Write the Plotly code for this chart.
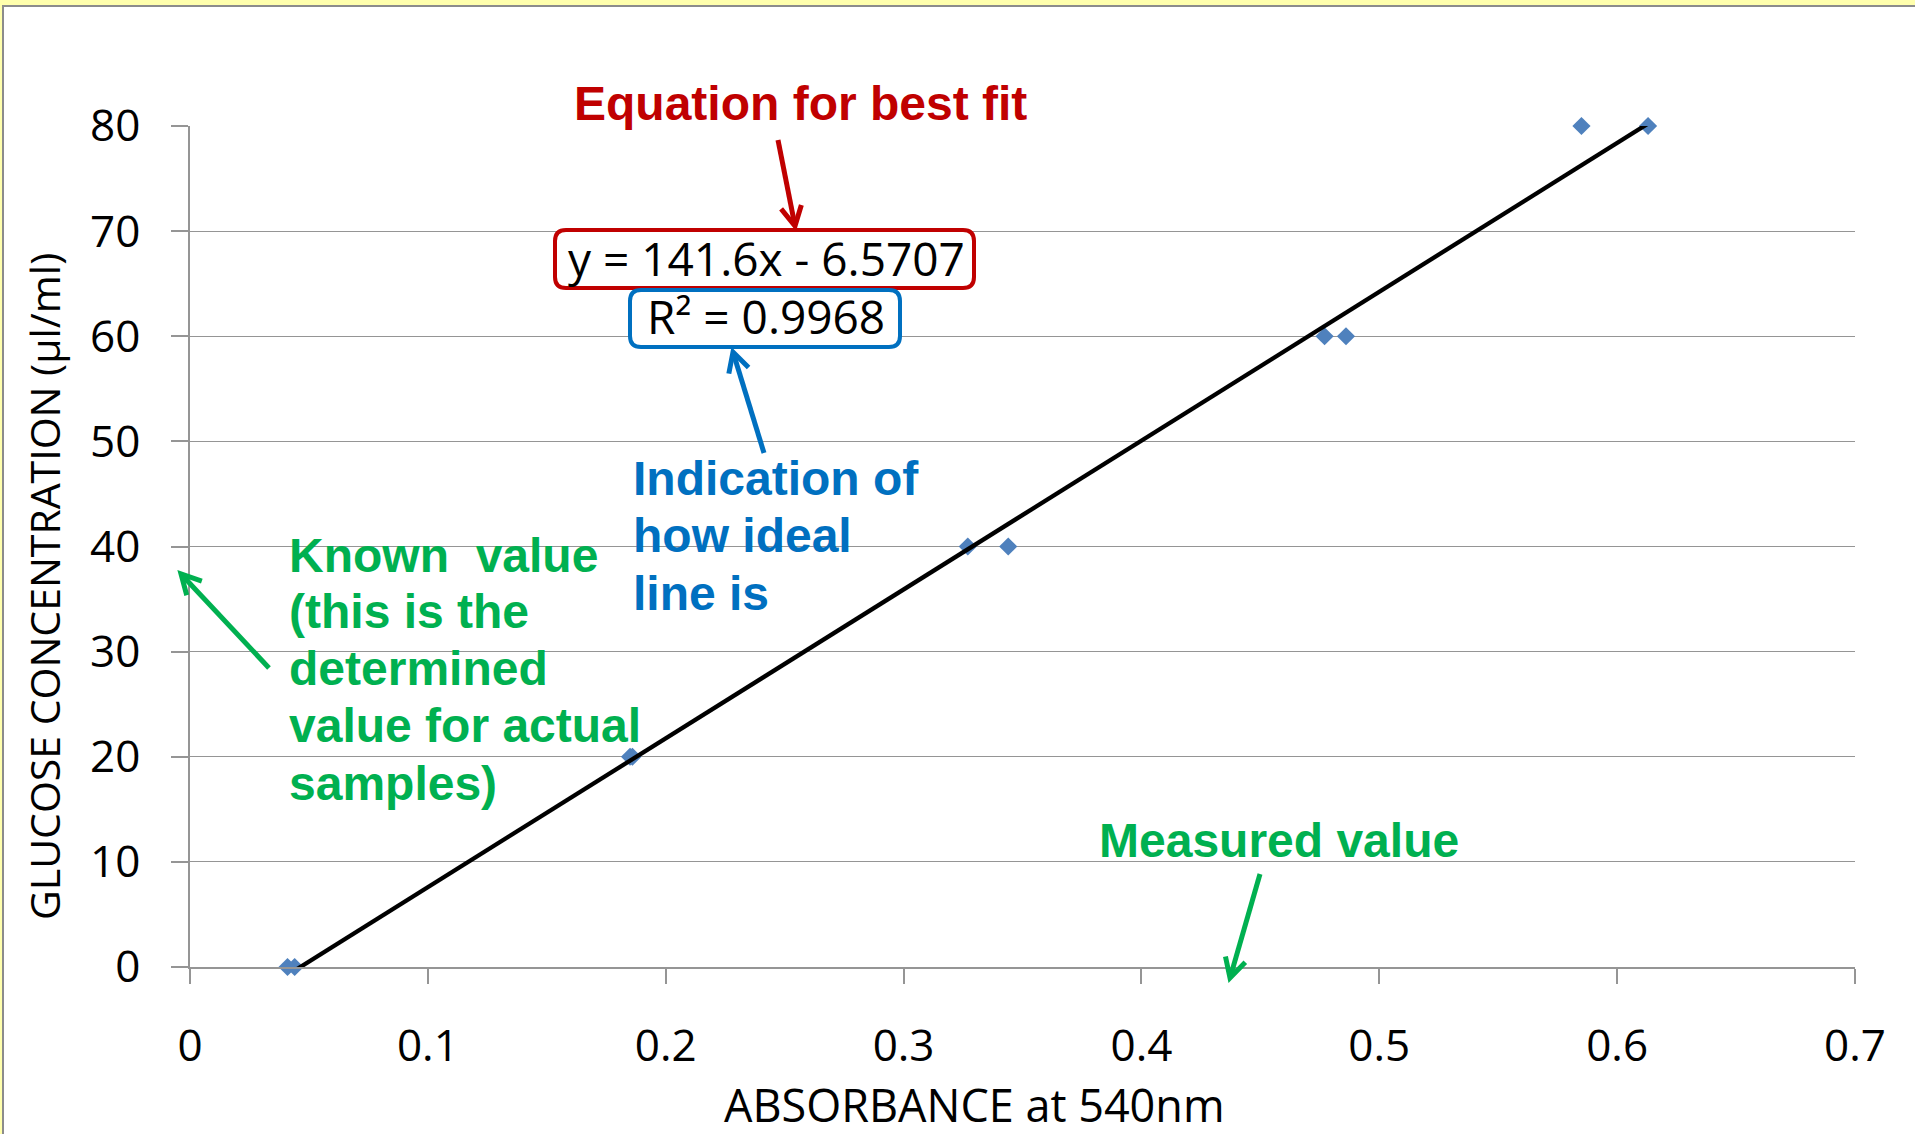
import math
import plotly.graph_objects as go

# ---------------- data ----------------
absorbance = [0.041, 0.044, 0.185, 0.186, 0.327, 0.344, 0.477, 0.486, 0.585, 0.613]
glucose = [0, 0, 20, 20, 40, 40, 60, 60, 80, 80]
fit_slope = 141.6
fit_intercept = -6.5707
fit_r2 = 0.9968
x_tick_vals = [0, 0.1, 0.2, 0.3, 0.4, 0.5, 0.6, 0.7]
x_tick_text = ["0", "0.1", "0.2", "0.3", "0.4", "0.5", "0.6", "0.7"]
y_tick_vals = [0, 10, 20, 30, 40, 50, 60, 70, 80]
x_title = "ABSORBANCE at 540nm"
y_title = "GLUCOSE CONCENTRATION (µl/ml)"
eq_text = "y = 141.6x - 6.5707"
r2_text = "R² = 0.9968"

# ---------------- geometry helpers ----------------
W, H = 1915, 1134
ML, MR, MT, MB = 190, 60, 126, 167
PW, PH = W - ML - MR, H - MT - MB


def X(px):
    return (px - ML) / PW


def Y(py):
    return (H - MB - py) / PH


RED = "#C00000"
BLUE = "#0070C0"
GREEN = "#00B050"
GRID = "#959595"
CAL = "Open Sans"
BOLD = "Liberation Sans"

fig = go.Figure()

fig.add_trace(go.Scatter(
    x=absorbance, y=glucose, mode="markers",
    marker=dict(symbol="diamond", size=14, color="#4F81BD", line=dict(width=0)),
    cliponaxis=False, showlegend=False,
))

x_fit = [min(absorbance), max(absorbance)]
y_fit = [fit_slope * v + fit_intercept for v in x_fit]
fig.add_trace(go.Scatter(
    x=x_fit, y=y_fit, mode="lines",
    line=dict(color="black", width=4.3), showlegend=False,
))

shapes = []
# outer frame
shapes.append(dict(type="rect", xref="paper", yref="paper",
                   x0=X(3), y0=Y(6), x1=X(1960), y1=Y(1180),
                   fillcolor="white", line=dict(color="#8C8C8C", width=2), layer="below"))


def rrect(x0, y0, x1, y1, r, color):
    p = (f"M {X(x0 + r)},{Y(y0)} L {X(x1 - r)},{Y(y0)} Q {X(x1)},{Y(y0)} {X(x1)},{Y(y0 + r)} "
         f"L {X(x1)},{Y(y1 - r)} Q {X(x1)},{Y(y1)} {X(x1 - r)},{Y(y1)} "
         f"L {X(x0 + r)},{Y(y1)} Q {X(x0)},{Y(y1)} {X(x0)},{Y(y1 - r)} "
         f"L {X(x0)},{Y(y0 + r)} Q {X(x0)},{Y(y0)} {X(x0 + r)},{Y(y0)} Z")
    return dict(type="path", xref="paper", yref="paper", path=p,
                fillcolor="white", line=dict(color=color, width=4), layer="above")


shapes.append(rrect(555, 230, 974, 288, 11, RED))
shapes.append(rrect(630, 290, 900, 347, 11, BLUE))


def arrow(tx, ty, hx, hy, color, L=22, ang=28, w=5):
    dx, dy = hx - tx, hy - ty
    n = math.hypot(dx, dy)
    ux, uy = dx / n, dy / n
    out = [dict(type="line", xref="paper", yref="paper",
                x0=X(tx), y0=Y(ty), x1=X(hx - ux * 2), y1=Y(hy - uy * 2),
                line=dict(color=color, width=w))]
    pts = []
    for s in (1, -1):
        a = math.radians(ang) * s
        wx = hx - L * (ux * math.cos(a) - uy * math.sin(a))
        wy = hy - L * (ux * math.sin(a) + uy * math.cos(a))
        pts.append((wx, wy))
    p = f"M {X(pts[0][0])},{Y(pts[0][1])} L {X(hx)},{Y(hy)} L {X(pts[1][0])},{Y(pts[1][1])}"
    out.append(dict(type="path", xref="paper", yref="paper", path=p,
                    line=dict(color=color, width=w)))
    return out


shapes += arrow(778, 140, 795, 226, RED)
shapes += arrow(764, 453, 733, 352, BLUE)
shapes += arrow(269, 668, 181, 574, GREEN)
shapes += arrow(1260, 874, 1230, 978, GREEN)

annotations = []


def label(text, left, baseline, color, size=48, family=BOLD, bold=True):
    annotations.append(dict(
        text=text, xref="paper", yref="paper", x=X(left - 5), y=Y(baseline - 0.3465 * size),
        xanchor="left", yanchor="middle", showarrow=False,
        font=dict(family=family, size=size, color=color, weight="bold" if bold else "normal"),
    ))


label("Equation for best fit", 577, 120, RED)
for i, t in enumerate(["Known \u00a0value", "(this is the", "determined", "value for actual", "samples)"]):
    label(t, 292, [572, 628, 685, 742, 800][i], GREEN)
for i, t in enumerate(["Indication of", "how ideal", "line is"]):
    label(t, 636, [495, 552, 610][i], BLUE)
label("Measured value", 1102, 857, GREEN)

annotations.append(dict(text=eq_text, xref="paper", yref="paper", x=X(766), y=Y(258),
                        xanchor="center", yanchor="middle", showarrow=False,
                        font=dict(family=CAL, size=46, color="black")))
annotations.append(dict(text=r2_text, xref="paper", yref="paper", x=X(766), y=Y(316),
                        xanchor="center", yanchor="middle", showarrow=False,
                        font=dict(family=CAL, size=46, color="black")))
annotations.append(dict(text=x_title, xref="paper", yref="paper", x=X(974), y=Y(1104),
                        xanchor="center", yanchor="middle", showarrow=False,
                        font=dict(family=CAL, size=45, color="black")))
annotations.append(dict(text=y_title, xref="paper", yref="paper", x=X(44), y=Y(587),
                        xanchor="center", yanchor="middle", showarrow=False, textangle=-90,
                        font=dict(family=CAL, size=41, color="black")))

fig.update_layout(
    width=W, height=H,
    margin=dict(l=ML, r=MR, t=MT, b=MB, pad=0),
    paper_bgcolor="#FFFFAD", plot_bgcolor="rgba(0,0,0,0)",
    showlegend=False,
    shapes=shapes, annotations=annotations,
    xaxis=dict(range=[0, 0.7], tickvals=x_tick_vals, ticktext=x_tick_text,
               showgrid=False, zeroline=False, showline=True, linecolor=GRID, linewidth=1.5,
               ticks="outside", ticklen=15, tickwidth=1.5, tickcolor=GRID,
               tickfont=dict(family=CAL, size=44, color="black"),
               ticklabelstandoff=24, automargin=False, fixedrange=True),
    yaxis=dict(range=[0, 80], tickvals=y_tick_vals,
               showgrid=True, gridcolor=GRID, gridwidth=1.2, zeroline=False,
               showline=True, linecolor=GRID, linewidth=1.5,
               ticks="outside", ticklen=17, tickwidth=1.5, tickcolor=GRID,
               tickfont=dict(family=CAL, size=44, color="black"),
               ticklabelstandoff=22, automargin=False, fixedrange=True),
)

fig.write_html("out.html", config={"displayModeBar": False},
               post_script="document.body.style.margin='0';document.body.style.overflow='hidden';")
